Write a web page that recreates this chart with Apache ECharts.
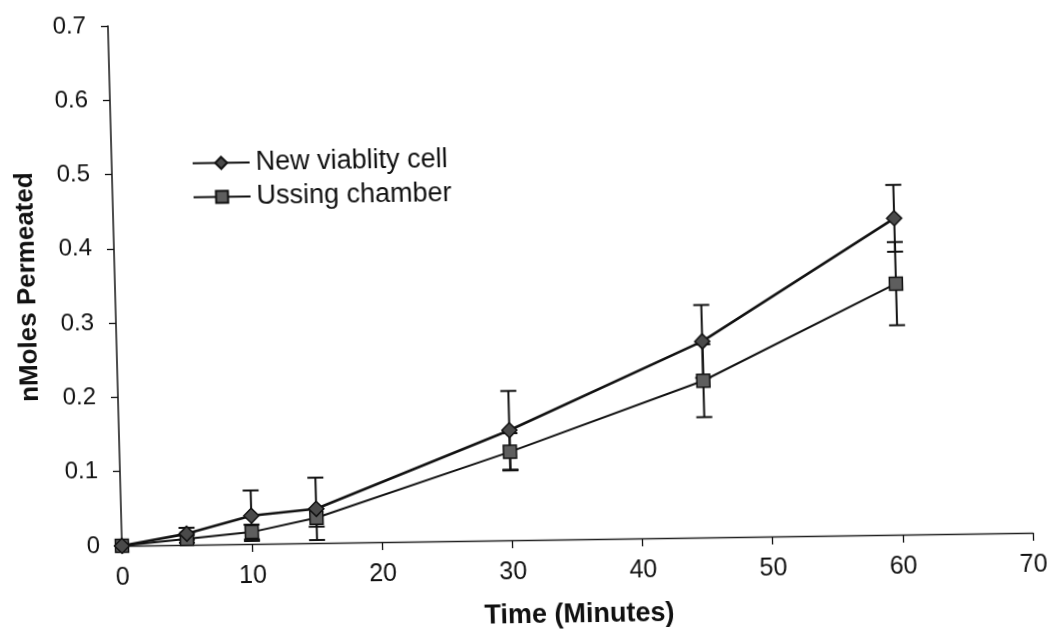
<!DOCTYPE html>
<html>
<head>
<meta charset="utf-8">
<script src="https://cdn.jsdelivr.net/npm/echarts@6/dist/echarts.min.js"></script>
<style>
  html, body { margin: 0; padding: 0; background: #fff; overflow: hidden; }
  /* the plot sits slightly skewed on the page, like a scanned figure */
  #chart {
    width: 1051px; height: 640px;
    transform: matrix(1, -0.0143, 0.027, 1, 0, 0);
    transform-origin: 122px 547px;
  }
</style>
</head>
<body>
<div id="chart"></div>
<script>
// Sampling times (minutes)
const times = [0, 5, 10, 15, 30, 45, 60];

// New viability cell: mean nmoles permeated and standard deviation
const viabilityMean = [0, 0.015, 0.038, 0.046, 0.148, 0.264, 0.426];
const viabilityErr  = [0, 0.008, 0.034, 0.042, 0.053, 0.049, 0.045];

// Ussing chamber: mean nmoles permeated and standard deviation
const ussingMean = [0, 0.008, 0.016, 0.034, 0.119, 0.211, 0.338];
const ussingErr  = [0, 0.005, 0.010, 0.012, 0.025, 0.049, 0.056];

const seriesNames = ['New viablity cell', 'Ussing chamber'];

const FONT = '"Liberation Sans", Arial, sans-serif';
const INK = '#111';

function points(mean) {
  return times.map((t, i) => [t, mean[i]]);
}
function errorRanges(mean, err) {
  return times
    .map((t, i) => [t, mean[i] - err[i], mean[i] + err[i], err[i]])
    .filter(d => d[3] > 0);
}

// vertical whisker with caps at both ends
function renderErrorBar(params, api) {
  const x = api.value(0);
  const lo = api.coord([x, api.value(1)]);
  const hi = api.coord([x, api.value(2)]);
  const hw = 8;
  const style = { stroke: INK, lineWidth: 2 };
  return {
    type: 'group',
    children: [
      { type: 'line', shape: { x1: lo[0], y1: lo[1], x2: hi[0], y2: hi[1] }, style },
      { type: 'line', shape: { x1: lo[0] - hw, y1: lo[1], x2: lo[0] + hw, y2: lo[1] }, style },
      { type: 'line', shape: { x1: hi[0] - hw, y1: hi[1], x2: hi[0] + hw, y2: hi[1] }, style }
    ]
  };
}

const chart = echarts.init(document.getElementById('chart'), null, { renderer: 'canvas' });

chart.setOption({
  backgroundColor: '#fff',
  animation: false,
  textStyle: { fontFamily: FONT, color: INK },
  grid: { left: 122, top: 26, width: 911, height: 521, containLabel: false },
  legend: {
    data: seriesNames,
    orient: 'vertical',
    left: 197,
    top: 146,
    itemWidth: 57,
    itemHeight: 15,
    itemGap: 7,
    textStyle: { fontFamily: FONT, fontSize: 27, color: INK, padding: [0, 0, 0, 1] },
    selectedMode: false
  },
  xAxis: {
    type: 'value',
    min: 0, max: 70, interval: 10,
    name: 'Time (Minutes)',
    nameLocation: 'middle',
    nameGap: 62,
    nameTextStyle: { fontFamily: FONT, fontSize: 27, fontWeight: 'bold', color: INK },
    axisLine: { show: true, onZero: false, lineStyle: { color: '#222', width: 1.3 } },
    axisTick: { show: true, inside: false, length: 8, lineStyle: { color: INK, width: 1.3 } },
    axisLabel: { margin: 20, fontSize: 25, color: INK, fontFamily: FONT },
    splitLine: { show: false }
  },
  yAxis: {
    type: 'value',
    min: 0, max: 0.7, interval: 0.1,
    name: 'nMoles Permeated',
    nameLocation: 'middle',
    nameRotate: 90,
    nameGap: 74,
    nameTextStyle: { fontFamily: FONT, fontSize: 26, fontWeight: 'bold', color: INK },
    axisLine: { show: true, lineStyle: { color: INK, width: 1.5 } },
    axisTick: { show: true, inside: false, length: 7, lineStyle: { color: INK, width: 1.3 } },
    axisLabel: {
      margin: 22, fontSize: 24, color: INK, fontFamily: FONT,
      formatter: v => (v === 0 ? '0' : v.toFixed(1))
    },
    splitLine: { show: false }
  },
  series: [
    {
      name: seriesNames[0] + ' error',
      type: 'custom',
      renderItem: renderErrorBar,
      encode: { x: 0, y: [1, 2] },
      data: errorRanges(viabilityMean, viabilityErr),
      z: 1,
      silent: true
    },
    {
      name: seriesNames[1] + ' error',
      type: 'custom',
      renderItem: renderErrorBar,
      encode: { x: 0, y: [1, 2] },
      data: errorRanges(ussingMean, ussingErr),
      z: 1,
      silent: true
    },
    {
      name: seriesNames[0],
      type: 'line',
      data: points(viabilityMean),
      symbol: 'diamond',
      symbolSize: 15,
      showAllSymbol: true,
      lineStyle: { color: INK, width: 2.6 },
      itemStyle: { color: '#4a4a4a', borderColor: INK, borderWidth: 1.5 },
      z: 3
    },
    {
      name: seriesNames[1],
      type: 'line',
      data: points(ussingMean),
      symbol: 'rect',
      symbolSize: 13,
      showAllSymbol: true,
      lineStyle: { color: INK, width: 2 },
      itemStyle: { color: '#5e5e5e', borderColor: INK, borderWidth: 1.5 },
      z: 2
    }
  ]
});
</script>
</body>
</html>
